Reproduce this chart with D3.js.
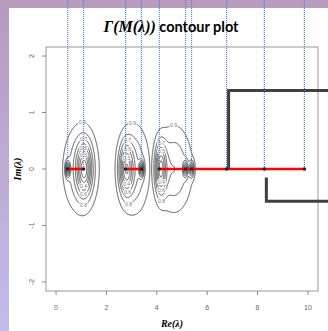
<!DOCTYPE html>
<html>
<head>
<meta charset="utf-8">
<script src="https://cdn.jsdelivr.net/npm/d3@7"></script>
<style>
  body { margin: 0; padding: 0; }
  svg { display: block; }
</style>
</head>
<body>
<svg id="chart"></svg>
<script>
// eigenvalues on the real axis
var eigenRe = [0.46, 1.09, 2.76, 3.39, 4.1, 5.14, 5.38, 6.77, 8.27, 9.86];
// red segments, as index pairs into eigenRe
var redSegments = [[0, 1], [2, 3], [4, 9]];

// sources that shape the contour field (one dip per source)
var srcCluster = [0, 0, 0, 1, 1, 1, 2, 2, 2, 2];
var srcRe  = [0.98, 1.12, 0.46, 3.1, 2.78, 3.39, 4.68, 4.15, 5.14, 5.38];
var srcAmp = [0.3, 0.6, 0.6, 0.3, 0.6, 0.6, 0.3, 0.6, 0.5, 0.5];
var srcSx  = [0.48, 0.2, 0.06, 0.42, 0.19, 0.06, 0.5, 0.15, 0.06, 0.06];
var srcSy  = [0.53, 0.3, 0.09, 0.54, 0.3, 0.09, 0.52, 0.3, 0.09, 0.09];
var contourLevels = [0.1, 0.2, 0.3, 0.4, 0.5, 0.6, 0.7, 0.8, 0.9];

var xTicks = [0, 2, 4, 6, 8, 10];
var yTicks = [-2, -1, 0, 1, 2];

var W = 328, H = 331;
var box = {left: 46, right: 318, top: 47, bottom: 291};

var svg = d3.select('#chart').attr('width', W).attr('height', H);

// purple page background
var defs = svg.append('defs');
var grad = defs.append('linearGradient').attr('id', 'side')
  .attr('x1', 0).attr('y1', 0).attr('x2', 0).attr('y2', 1);
grad.append('stop').attr('offset', '0%').attr('stop-color', '#b69abf');
grad.append('stop').attr('offset', '100%').attr('stop-color', '#c4bbea');
svg.append('rect').attr('width', W).attr('height', H).attr('fill', 'url(#side)');
svg.append('rect').attr('width', W).attr('height', 8).attr('fill', '#b99bbd');
svg.append('rect').attr('x', 9).attr('y', 8).attr('width', W - 9).attr('height', H - 8).attr('fill', '#fff');

var x = d3.scaleLinear().domain([-0.4, 10.4]).range([box.left, box.right]);
var y = d3.scaleLinear().domain([-2.16, 2.16]).range([box.bottom, box.top]);

// field: min over clusters of (1 - sum of gaussian dips)
function field(re, im) {
  var best = 1;
  for (var c = 0; c < 3; c++) {
    var v = 1;
    for (var i = 0; i < srcRe.length; i++) {
      if (srcCluster[i] != c) continue;
      var dx = (re - srcRe[i]) / srcSx[i], dy = im / srcSy[i];
      v -= srcAmp[i] * Math.exp(-0.5 * (dx * dx + dy * dy));
    }
    if (v < best) best = v;
  }
  return best;
}

var nx = box.right - box.left, ny = box.bottom - box.top;
var values = new Array(nx * ny);
for (var j = 0; j < ny; j++) {
  for (var i = 0; i < nx; i++) {
    values[j * nx + i] = -field(x.invert(box.left + i + 0.5), y.invert(box.top + j + 0.5));
  }
}
var contours = d3.contours().size([nx, ny])
  .thresholds(contourLevels.map(function(d) { return -d; }))(values);

var path = d3.geoPath(d3.geoIdentity().translate([box.left, box.top]));

var g = svg.append('g');
g.selectAll('path.ct')
  .data(contours)
  .enter()
  .append('path')
  .attr('class', 'ct')
  .attr('d', path)
  .attr('fill', 'none')
  .attr('stroke', '#444')
  .attr('stroke-width', 0.9);

// contour labels, R style
contours.forEach(function(ct, k) {
  var lvl = -ct.value;
  ct.coordinates.forEach(function(poly) {
    var ring = poly[0];
    var ys = ring.map(function(p) { return p[1]; });
    var hgt = d3.max(ys) - d3.min(ys);
    if (hgt < 22) return;
    var top = (Math.round(lvl * 10) % 2 == 1);
    var pt = top ? ring[d3.minIndex(ys)] : ring[d3.maxIndex(ys)];
    g.append('text')
      .attr('x', pt[0] + box.left)
      .attr('y', pt[1] + box.top + 1.8)
      .attr('text-anchor', 'middle')
      .attr('font-family', 'Liberation Sans, Arial, sans-serif')
      .attr('font-size', 5)
      .attr('fill', '#777')
      .attr('stroke', '#fff')
      .attr('stroke-width', 2)
      .attr('paint-order', 'stroke')
      .text(d3.format('.1f')(lvl));
  });
});

// plot box
svg.append('rect')
  .attr('x', box.left).attr('y', box.top)
  .attr('width', box.right - box.left).attr('height', box.bottom - box.top)
  .attr('fill', 'none').attr('stroke', '#999').attr('stroke-width', 1);

// x axis
var xAxis = svg.append('g');
xAxis.selectAll('line').data(xTicks).enter().append('line')
  .attr('x1', function(d) { return x(d); }).attr('x2', function(d) { return x(d); })
  .attr('y1', box.bottom).attr('y2', box.bottom + 4)
  .attr('stroke', '#888');
xAxis.selectAll('text').data(xTicks).enter().append('text')
  .attr('x', function(d) { return x(d); })
  .attr('y', 310)
  .attr('text-anchor', 'middle')
  .attr('font-family', 'Liberation Sans, Arial, sans-serif')
  .attr('font-size', 7)
  .attr('fill', '#666')
  .text(function(d) { return d; });

// y axis
var yAxis = svg.append('g');
yAxis.selectAll('line').data(yTicks).enter().append('line')
  .attr('x1', box.left - 4).attr('x2', box.left)
  .attr('y1', function(d) { return y(d); }).attr('y2', function(d) { return y(d); })
  .attr('stroke', '#888');
yAxis.selectAll('text').data(yTicks).enter().append('text')
  .attr('transform', function(d) { return 'translate(34,' + y(d) + ') rotate(-90)'; })
  .attr('text-anchor', 'middle')
  .attr('font-family', 'Liberation Sans, Arial, sans-serif')
  .attr('font-size', 7)
  .attr('fill', '#666')
  .text(function(d) { return d; });

// red line on the real axis
svg.selectAll('line.red').data(redSegments).enter().append('line')
  .attr('class', 'red')
  .attr('x1', function(d) { return x(eigenRe[d[0]]); })
  .attr('x2', function(d) { return x(eigenRe[d[1]]); })
  .attr('y1', y(0)).attr('y2', y(0))
  .attr('stroke', '#f00').attr('stroke-width', 2.5);

// black brackets
var br1 = [[eigenRe[7], 0], [eigenRe[7], 1.39]];
var br2 = [[eigenRe[8], -0.15], [eigenRe[8], -0.57]];
var bracket = d3.line().x(function(d) { return d[0]; }).y(function(d) { return d[1]; });
[br1, br2].forEach(function(b) {
  var pts = b.map(function(p) { return [x(p[0]) + 2, y(p[1])]; });
  pts.push([W, pts[1][1]]);
  svg.append('path').attr('d', bracket(pts))
    .attr('fill', 'none').attr('stroke', '#404040').attr('stroke-width', 3);
});

// blue dotted guide lines
svg.selectAll('line.guide').data(eigenRe).enter().append('line')
  .attr('class', 'guide')
  .attr('x1', function(d) { return x(d); }).attr('x2', function(d) { return x(d); })
  .attr('y1', 0).attr('y2', y(0))
  .attr('stroke', '#4a84da').attr('stroke-width', 1.2)
  .attr('stroke-dasharray', '1,1');

// points
svg.selectAll('circle.pt').data(eigenRe).enter().append('circle')
  .attr('class', 'pt')
  .attr('cx', function(d) { return x(d); }).attr('cy', y(0))
  .attr('r', 1.8).attr('fill', '#222');

// title
var title = svg.append('text').attr('x', 171).attr('y', 32).attr('text-anchor', 'middle');
title.append('tspan')
  .attr('font-family', 'Liberation Serif, serif')
  .attr('font-style', 'italic').attr('font-weight', 'bold')
  .attr('font-size', 16)
  .text('Γ(M(λ))');
title.append('tspan')
  .attr('font-family', 'Lato, sans-serif')
  .attr('font-weight', 'bold')
  .attr('font-size', 14.5)
  .text(' contour plot');

// axis titles
svg.append('text')
  .attr('transform', 'translate(21,169) rotate(-90)')
  .attr('text-anchor', 'middle')
  .attr('font-family', 'Liberation Serif, serif')
  .attr('font-style', 'italic').attr('font-weight', 'bold')
  .attr('font-size', 10)
  .text('Im(λ)');
svg.append('text')
  .attr('x', 172).attr('y', 327)
  .attr('text-anchor', 'middle')
  .attr('font-family', 'Liberation Serif, serif')
  .attr('font-style', 'italic').attr('font-weight', 'bold')
  .attr('font-size', 10)
  .text('Re(λ)');
</script>
</body>
</html>
